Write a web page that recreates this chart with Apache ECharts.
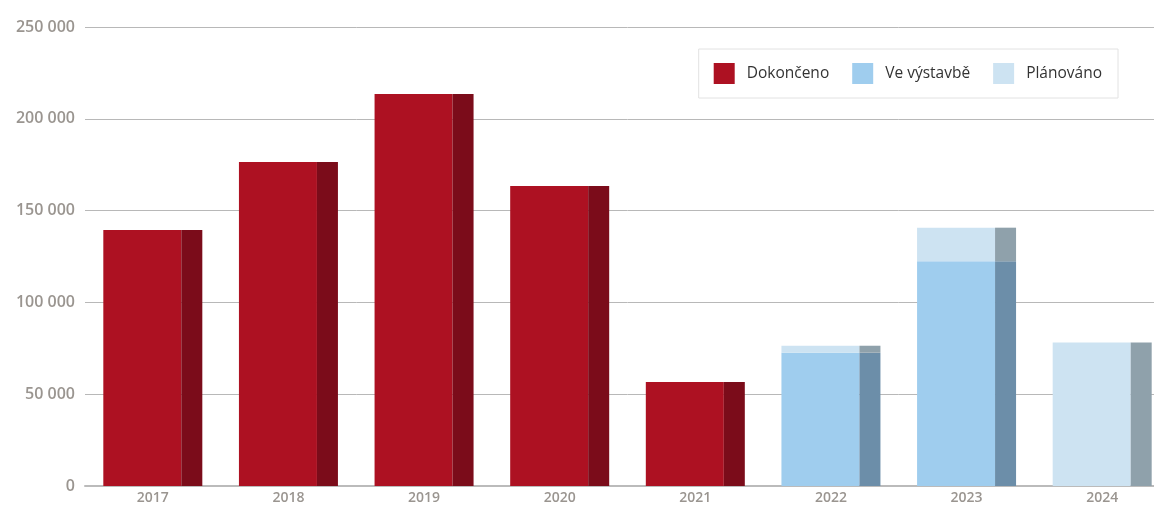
<!DOCTYPE html>
<html>
<head>
<meta charset="utf-8">
<script src="https://cdn.jsdelivr.net/npm/echarts@6/dist/echarts.min.js"></script>
<style>
  html, body { margin: 0; padding: 0; background: #fff; overflow: hidden; }
  #chart { width: 1170px; height: 506px; }
</style>
</head>
<body>
<div id="chart"></div>
<script>
const years = ['2017', '2018', '2019', '2020', '2021', '2022', '2023', '2024'];
const done = [139400, 176500, 213500, 163400, 56600, 0, 0, 0];
const building = [0, 0, 0, 0, 0, 72600, 122400, 0];
const planned = [0, 0, 0, 0, 0, 3800, 18300, 78100];

const names = ['Dokončeno', 'Ve výstavbě', 'Plánováno'];
const colors = ['#ad1122', '#9fcdee', '#cde3f2'];
const sideColors = ['#7b0c1a', '#6c8ea9', '#8fa1ab'];
const values = [done, building, planned];

const fmt = v => String(v).replace(/\B(?=(\d{3})+(?!\d))/g, ' ');

const series = [];
values.forEach((d, i) => {
  series.push({
    name: names[i], type: 'bar', stack: 'main', barWidth: 78, barGap: '0%',
    itemStyle: { color: colors[i] }, data: d
  });
});
values.forEach((d, i) => {
  series.push({
    name: names[i] + ' side', type: 'bar', stack: 'side', barWidth: 21, barGap: '0%',
    itemStyle: { color: sideColors[i] }, data: d
  });
});

// chart is 16px wider than the window so the last bar gets cut like in the original
const chart = echarts.init(document.getElementById('chart'));
chart.setOption({
  animation: false,
  textStyle: { fontFamily: 'Open Sans' },
  grid: { left: 85, top: 27, right: 0, bottom: 20 },
  legend: {
    data: names,
    right: 52, top: 49,
    padding: [14, 16, 14, 15],
    borderColor: '#e2e2e2', borderWidth: 1,
    itemWidth: 21, itemHeight: 21, itemGap: 23,
    textStyle: { color: '#333', fontSize: 15.5, fontFamily: 'Open Sans', padding: [0, 0, 0, 7] },
    icon: 'rect'
  },
  xAxis: {
    type: 'category', data: years,
    axisTick: { show: false },
    axisLine: { lineStyle: { color: '#bbb', width: 2 } },
    axisLabel: { color: '#9a9590', fontSize: 14, fontWeight: 600, margin: 5 }
  },
  yAxis: {
    type: 'value', min: 0, max: 250000, interval: 50000,
    axisLine: { show: false }, axisTick: { show: false },
    splitLine: { lineStyle: { color: '#b8b8b8', width: 1 } },
    axisLabel: { color: '#9a9590', fontSize: 16, fontWeight: 600, margin: 10, formatter: fmt }
  },
  series: series
});
</script>
</body>
</html>
